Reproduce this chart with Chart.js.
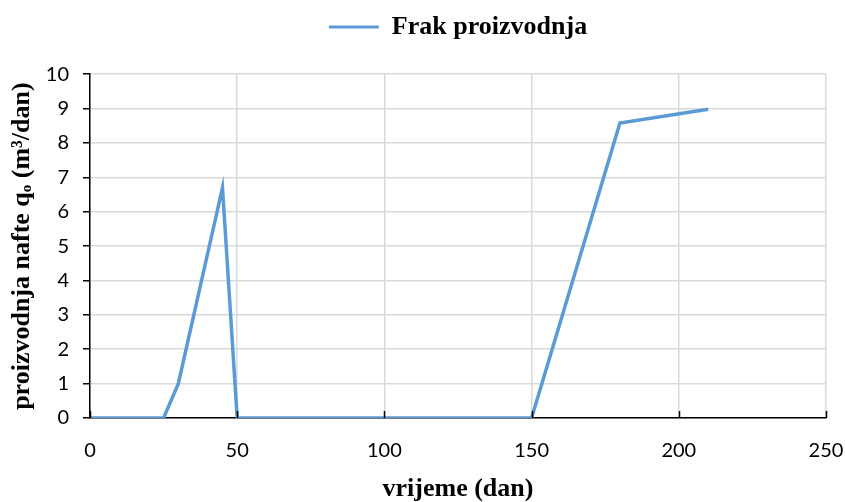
<!DOCTYPE html>
<html>
<head>
<meta charset="utf-8">
<script src="https://cdn.jsdelivr.net/npm/chart.js@4.4.1/dist/chart.umd.min.js"></script>
<style>
  html, body { margin:0; padding:0; background:#fff; }
  #wrap { width:845px; height:502px; position:relative; }
</style>
</head>
<body>
<div id="wrap"><canvas id="chart"></canvas></div>
<script>
// data
const days = [0, 25, 30, 45, 50, 150, 180, 210];
const rate = [0, 0, 1, 6.7, 0, 0, 8.58, 8.98];
const xTicks = [0, 50, 100, 150, 200, 250];
const yTicks = [0, 1, 2, 3, 4, 5, 6, 7, 8, 9, 10];

const seriesName = 'Frak proizvodnja';
const xTitle = 'vrijeme (dan)';
const yTitle = 'proizvodnja nafte qₒ (m³/dan)';

const serif = '"Liberation Serif", "Times New Roman", serif';
const sans = 'Lato, "Open Sans", "Liberation Sans", sans-serif';

// black tick marks pointing up into the plot, like the original
const innerTicks = {
  id: 'innerTicks',
  afterDraw(chart) {
    const ctx = chart.ctx, x = chart.scales.x, bottom = chart.chartArea.bottom;
    ctx.save();
    ctx.strokeStyle = '#000';
    ctx.lineWidth = 1.5;
    xTicks.forEach(v => {
      const px = Math.round(x.getPixelForValue(v)) + 0.5;
      ctx.beginPath(); ctx.moveTo(px, bottom); ctx.lineTo(px, bottom - 7); ctx.stroke();
    });
    ctx.restore();
  }
};

new Chart(document.getElementById('chart'), {
  type: 'scatter',
  data: {
    datasets: [{
      label: seriesName,
      data: days.map((d, i) => ({ x: d, y: rate[i] })),
      showLine: true,
      borderColor: '#5b9bd5',
      backgroundColor: '#5b9bd5',
      borderWidth: 3.5,
      pointRadius: 0,
      pointHoverRadius: 0,
      tension: 0
    }]
  },
  options: {
    responsive: true, maintainAspectRatio: false, animation: false,
    layout: { padding: { left: 0, right: 19, top: 4, bottom: 0 } },
    plugins: {
      tooltip: { enabled: false },
      // empty spacer between the legend and the plot
      subtitle: { display: true, text: '', weight: 500, font: { size: 1 }, padding: { top: 0, bottom: 23 } },
      legend: {
        position: 'top',
        fullSize: false,
        labels: {
          color: '#000',
          font: { family: serif, size: 26, weight: 'bold' },
          boxWidth: 50, boxHeight: 3,
          padding: 10,
          generateLabels(chart) {
            return [{ text: seriesName, fillStyle: '#5b9bd5', strokeStyle: '#5b9bd5', lineWidth: 0, datasetIndex: 0 }];
          }
        }
      }
    },
    scales: {
      x: {
        type: 'linear', min: 0, max: 250,
        afterBuildTicks: s => { s.ticks = xTicks.map(v => ({ value: v })); },
        afterFit: s => { s.height = 84; s.paddingLeft = 0; s.paddingRight = 0; },
        border: { color: '#000', width: 1.5 },
        grid: { color: '#d9d9d9', lineWidth: 1.5, drawTicks: false },
        ticks: { color: '#000', padding: 21, font: { family: sans, size: 20 }, maxRotation: 0 },
        title: { display: true, text: xTitle, color: '#000', padding: { top: 10, bottom: -3 }, font: { family: serif, size: 26, weight: 'bold' } }
      },
      y: {
        min: 0, max: 10,
        afterBuildTicks: s => { s.ticks = yTicks.map(v => ({ value: v })); },
        afterFit: s => { s.width = 90; },
        border: { color: '#000', width: 1.5 },
        grid: { color: '#d9d9d9', lineWidth: 1.5, tickColor: '#000', tickLength: 7 },
        ticks: { color: '#000', padding: 14, font: { family: sans, size: 20 } },
        title: { display: true, text: yTitle, color: '#000', padding: { top: 7, bottom: 0 }, font: { family: serif, size: 26, weight: 'bold' } }
      }
    }
  },
  plugins: [innerTicks]
});
</script>
</body>
</html>
